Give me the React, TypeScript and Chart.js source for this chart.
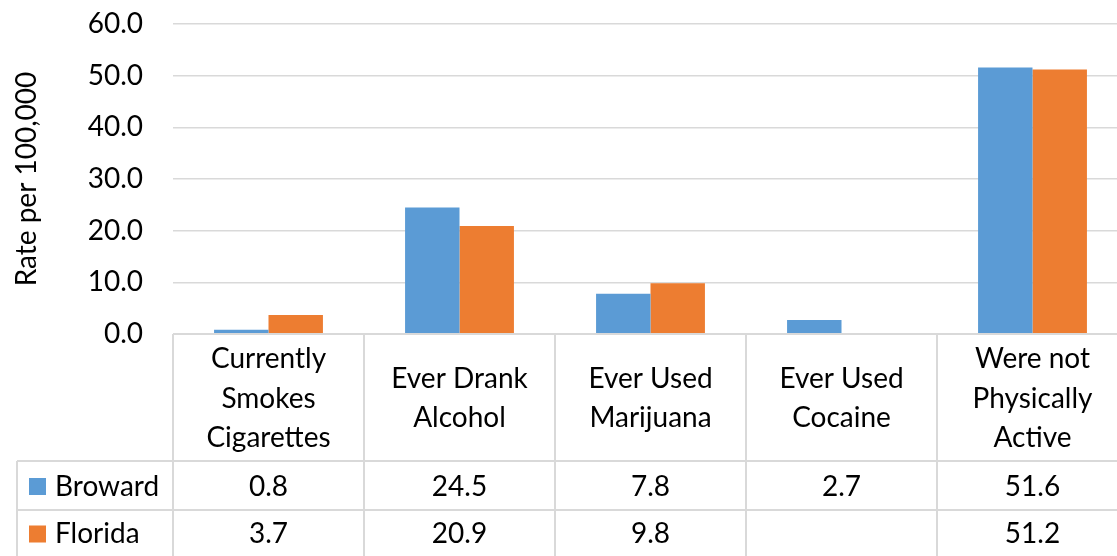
import React, { useEffect, useRef } from "react";
import { Chart, registerables } from "chart.js";

Chart.register(...registerables);

const categories: string[][] = [
  ["Currently", "Smokes", "Cigarettes"],
  ["Ever Drank", "Alcohol"],
  ["Ever Used", "Marijuana"],
  ["Ever Used", "Cocaine"],
  ["Were not", "Physically", "Active"],
];
const seriesNames = ["Broward", "Florida"];
const broward: (number | null)[] = [0.8, 24.5, 7.8, 2.7, 51.6];
const florida: (number | null)[] = [3.7, 20.9, 9.8, null, 51.2];
const seriesColors = ["#5B9BD5", "#ED7D31"];
const yTicks = [0, 10, 20, 30, 40, 50, 60];
const yTitle = "Rate per 100,000";

const FONT = "Lato, 'Open Sans', sans-serif";
const FONT_SIZE = 28;
const LINE = "#d9d9d9";
const TEXT = "#000000";

const tablePlugin = {
  id: "dataTable",
  afterDraw(chart: any) {
    const { ctx, chartArea, scales } = chart;
    const x = scales.x;
    const n = categories.length;
    const colW = (chartArea.right - chartArea.left) / n;
    const top = chartArea.bottom;
    const headerBottom = 461;
    const row1Bottom = 510;
    const bottom = chart.height + 5;
    const right = chart.width;
    const legendLeft = 17;

    ctx.save();
    ctx.strokeStyle = LINE;
    ctx.lineWidth = 2;
    ctx.beginPath();
    ctx.moveTo(chartArea.left, top);
    ctx.lineTo(right, top);
    ctx.moveTo(legendLeft, headerBottom);
    ctx.lineTo(right, headerBottom);
    ctx.moveTo(legendLeft, row1Bottom);
    ctx.lineTo(right, row1Bottom);
    for (let i = 0; i <= n; i++) {
      const bx = chartArea.left + i * colW;
      ctx.moveTo(bx, top);
      ctx.lineTo(bx, bottom);
    }
    ctx.moveTo(legendLeft, headerBottom);
    ctx.lineTo(legendLeft, bottom);
    ctx.stroke();

    ctx.fillStyle = TEXT;
    ctx.font = `${FONT_SIZE}px ${FONT}`;
    ctx.textAlign = "center";
    ctx.textBaseline = "middle";
    const lh = 39.5;
    const headerMid = (top + headerBottom) / 2;
    categories.forEach((lines, i) => {
      const cx = x.getPixelForValue(i);
      const start = headerMid - ((lines.length - 1) * lh) / 2;
      lines.forEach((t, j) => ctx.fillText(t, cx, start + j * lh + 1));
    });

    const rows = [broward, florida];
    const rowMids = [(headerBottom + row1Bottom) / 2 + 1, 534];
    rows.forEach((vals, r) => {
      vals.forEach((v, i) => {
        if (v === null) return;
        ctx.fillText(v.toFixed(1), x.getPixelForValue(i), rowMids[r]);
      });
      ctx.fillStyle = seriesColors[r];
      ctx.fillRect(29, rowMids[r] - 8.5, 17, 17);
      ctx.fillStyle = TEXT;
      ctx.textAlign = "left";
      ctx.fillText(seriesNames[r], 55, rowMids[r]);
      ctx.textAlign = "center";
    });
    ctx.restore();
  },
};

export default function App() {
  const ref = useRef<HTMLCanvasElement>(null);
  useEffect(() => {
    if (!ref.current) return;
    const chart = new Chart(ref.current, {
      type: "bar",
      data: {
        labels: categories.map((c) => c.join(" ")),
        datasets: [
          { label: seriesNames[0], data: broward, backgroundColor: seriesColors[0], borderWidth: 0 },
          { label: seriesNames[1], data: florida, backgroundColor: seriesColors[1], borderWidth: 0 },
        ],
      },
      options: {
        responsive: false,
        maintainAspectRatio: false,
        animation: false,
        layout: { padding: { top: 24, bottom: 222, right: 7, left: 0 } },
        plugins: { legend: { display: false }, tooltip: { enabled: false } },
        datasets: { bar: { categoryPercentage: 0.57, barPercentage: 1.0 } },
        scales: {
          x: { display: false },
          y: {
            min: 0,
            max: 60,
            afterFit: (s: any) => {
              s.width = 173;
              s.paddingTop = 0;
              s.paddingBottom = 0;
            },
            afterBuildTicks: (s: any) => {
              s.ticks = yTicks.map((v) => ({ value: v }));
            },
            ticks: {
              padding: 30,
              color: TEXT,
              font: { family: FONT, size: FONT_SIZE },
              callback: (v: any) => Number(v).toFixed(1),
            },
            grid: { color: LINE, lineWidth: 1.5, drawTicks: false },
            border: { display: false },
            title: {
              display: true,
              text: yTitle,
              color: TEXT,
              font: { family: FONT, size: FONT_SIZE },
              padding: { top: 10, bottom: 0 },
            },
          },
        },
      },
      plugins: [tablePlugin],
    });
    return () => chart.destroy();
  }, []);
  return (
    <div style={{ position: "fixed", left: 0, top: 0, width: 1117, height: 556, overflow: "hidden", background: "#fff" }}>
      <canvas ref={ref} width={1135} height={556} style={{ display: "block" }} />
    </div>
  );
}
